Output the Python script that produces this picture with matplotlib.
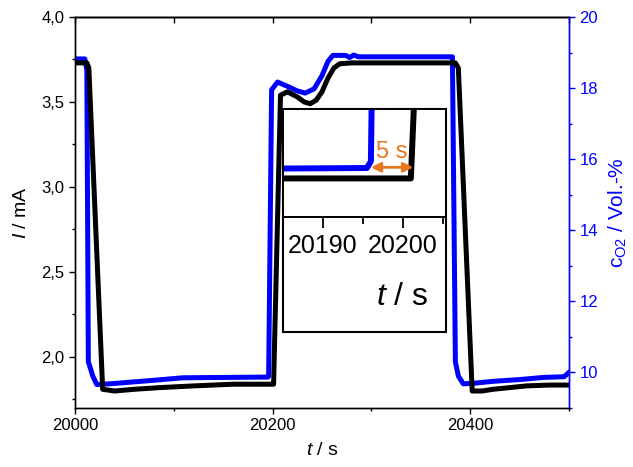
import matplotlib
matplotlib.use("Agg")
import matplotlib.pyplot as plt
from matplotlib.patches import Rectangle
from matplotlib.ticker import MultipleLocator

plt.rcParams['font.family'] = ['Liberation Sans', 'DejaVu Sans']
plt.rcParams['mathtext.fontset'] = 'custom'
plt.rcParams['mathtext.rm'] = 'Liberation Sans'
plt.rcParams['mathtext.it'] = 'Liberation Sans:italic'

# ---- data ----
black_t = [20000, 20012, 20014, 20028, 20040, 20060, 20086, 20120, 20160, 20200.5, 20201,
           20208, 20215, 20225, 20232, 20238, 20244, 20250, 20256, 20262, 20268, 20280,
           20385, 20388, 20402, 20412, 20423, 20440, 20457, 20480, 20500]
black_I = [3.73, 3.73, 3.70, 1.81, 1.80, 1.81, 1.82, 1.83, 1.84, 1.84, 1.84,
           3.54, 3.56, 3.53, 3.50, 3.49, 3.51, 3.56, 3.64, 3.70, 3.725, 3.73,
           3.73, 3.70, 1.80, 1.80, 1.81, 1.82, 1.83, 1.835, 1.835]

blue_t = [20000, 20010, 20012, 20013.5, 20018, 20022, 20035, 20053, 20080, 20109, 20150,
          20195.5, 20196, 20199, 20205, 20215, 20225, 20233, 20242, 20250, 20256, 20261,
          20274, 20278, 20282, 20287, 20300, 20382, 20385, 20388, 20393, 20405,
          20423, 20450, 20474, 20495, 20500]
blue_c = [18.82, 18.82, 18.5, 10.3, 9.9, 9.66, 9.68, 9.72, 9.78, 9.85, 9.86,
          9.87, 9.9, 17.95, 18.17, 18.05, 17.92, 17.86, 17.98, 18.35, 18.75, 18.92,
          18.92, 18.86, 18.93, 18.88, 18.88, 18.88, 10.3, 9.9, 9.68, 9.7,
          9.75, 9.8, 9.86, 9.88, 10.0]

x_ticks = [20000, 20200, 20400]
x_ticklabels = ["20000", "20200", "20400"]
yl_ticks = [2.0, 2.5, 3.0, 3.5, 4.0]
yl_ticklabels = ["2,0", "2,5", "3,0", "3,5", "4,0"]
yr_ticks = [10, 12, 14, 16, 18, 20]
yr_ticklabels = ["10", "12", "14", "16", "18", "20"]
inset_ticks = [20190, 20200]
inset_ticklabels = ["20190", "20200"]
delay_start, delay_end = 20196, 20201.3

BLUE = '#0000FF'
ORANGE = '#E8761E'

fig = plt.figure(figsize=(6.33, 4.67), dpi=100)
ax = fig.add_axes([75/633, 1-408/467, 494/633, 391/467])
ax2 = ax.twinx()

ax.plot(black_t, black_I, color='black', lw=3.6, solid_joinstyle='round', zorder=3)
ax2.plot(blue_t, blue_c, color=BLUE, lw=3.6, solid_joinstyle='round', zorder=3)
ax.set_zorder(2)
ax.patch.set_visible(False)
ax2.set_zorder(1)

ax.set_xlim(20000, 20500)
ax.set_ylim(1.70, 4.0)
ax2.set_ylim(9, 20)
ax.set_xticks(x_ticks)
ax.set_xticklabels(x_ticklabels)
ax.set_yticks(yl_ticks)
ax.set_yticklabels(yl_ticklabels)
ax2.set_yticks(yr_ticks)
ax2.set_yticklabels(yr_ticklabels)
ax.xaxis.set_minor_locator(MultipleLocator(100))
ax.yaxis.set_minor_locator(MultipleLocator(0.25))
ax2.yaxis.set_minor_locator(MultipleLocator(1))

for a in (ax, ax2):
    for s in a.spines.values():
        s.set_linewidth(1.0)
ax.tick_params(axis='both', which='major', direction='out', length=4, width=1, labelsize=12)
ax.tick_params(axis='both', which='minor', direction='out', length=2.5, width=1)
ax2.tick_params(axis='y', which='major', direction='out', length=4, width=1,
                colors=BLUE, labelsize=12)
ax2.tick_params(axis='y', which='minor', direction='out', length=2.5, width=1, colors=BLUE)
ax2.spines['right'].set_color(BLUE)
ax.spines['right'].set_color(BLUE)

top = ax.secondary_xaxis('top')
top.set_xticks(x_ticks)
top.set_xticklabels([])
top.xaxis.set_minor_locator(MultipleLocator(100))
top.tick_params(axis='x', which='both', direction='in', length=4, width=1)
top.spines['top'].set_linewidth(1.0)

ax.set_xlabel(r"$\it{t}$ / s", fontsize=14, labelpad=6)
ax.set_ylabel(r"$\it{I}$ / mA", fontsize=14, labelpad=8)
ax2.set_ylabel(r"c$_\mathrm{O2}$ / Vol.-%", fontsize=15, color=BLUE, labelpad=6)

# ---- inset ----
box = Rectangle((283/633, 1-332/467), 163/633, 223/467, transform=fig.transFigure,
                facecolor='white', edgecolor='black', lw=1.5, zorder=5)
fig.patches.append(box)

ia = fig.add_axes([283/633, 1-217/467, 163/633, 108/467], zorder=6)
ia2 = ia.twinx()
ia.plot(black_t, black_I, color='black', lw=4.3, solid_joinstyle='round')
ia2.plot(blue_t, blue_c, color=BLUE, lw=4.3, solid_joinstyle='round')
ia.set_xlim(20185, 20205.4)
ia.set_ylim(1.79, 1.93)
ia2.set_ylim(9.65, 10.135)
ia.set_yticks([])
ia2.set_yticks([])
ia.set_xticks(inset_ticks)
ia.set_xticklabels(inset_ticklabels)
ia.xaxis.set_minor_locator(MultipleLocator(5))
ia.tick_params(axis='x', which='major', direction='out', length=8, width=1.3,
               labelsize=18, pad=4)
ia.tick_params(axis='x', which='minor', direction='out', length=5, width=1.3)
for a in (ia, ia2):
    for s in a.spines.values():
        s.set_linewidth(1.3)

ia2.annotate('', xy=(delay_start, 0.46), xytext=(delay_end, 0.46),
             xycoords=('data', 'axes fraction'), textcoords=('data', 'axes fraction'),
             arrowprops=dict(arrowstyle='<|-|>', color=ORANGE, lw=2, mutation_scale=14,
                             shrinkA=0, shrinkB=0))
ia2.text((delay_start + delay_end) / 2, 0.6, "5 s", color=ORANGE, fontsize=17,
         ha='center', va='center', transform=ia2.get_xaxis_transform())

fig.text(402/633, 1-297/467, r"$\it{t}$ / s", fontsize=23, ha='center', va='center',
         zorder=7)

fig.savefig("out.png", dpi=100)
